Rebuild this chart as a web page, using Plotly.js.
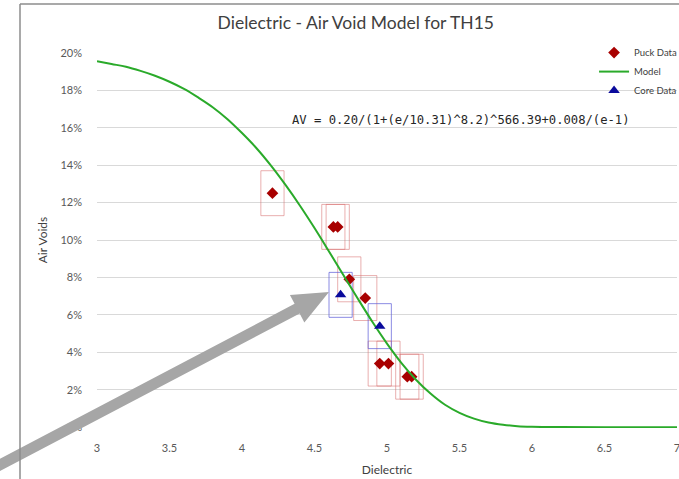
<!DOCTYPE html>
<html>
<head>
<meta charset="utf-8">
<script src="https://cdn.plot.ly/plotly-3.0.1.min.js"></script>
<style>
html,body{margin:0;padding:0;background:#fff;}
#chart{width:679px;height:479px;}
</style>
</head>
<body>
<div id="chart"></div>
<script>
// ---- data ----
const puckDielectric = [4.21, 4.63, 4.66, 4.74, 4.85, 4.95, 5.01, 5.14, 5.17];
const puckAirVoids   = [0.125, 0.107, 0.107, 0.079, 0.069, 0.034, 0.034, 0.027, 0.027];

const coreDielectric = [4.68, 4.95];
const coreAirVoids   = [0.0707, 0.054];

const modelDielectric = [3.0, 3.1, 3.2, 3.3, 3.4, 3.5, 3.6, 3.7, 3.8, 3.9, 4.0, 4.1, 4.2, 4.3, 4.4, 4.5, 4.6, 4.7, 4.8, 4.9, 5.0, 5.1, 5.2, 5.3, 5.4, 5.5, 5.6, 5.7, 5.8, 5.9, 6.0, 6.2, 6.5, 7.0];
const modelAirVoids   = [0.1955, 0.194, 0.1925, 0.1903, 0.1877, 0.1845, 0.1807, 0.176, 0.1708, 0.1645, 0.1571, 0.149, 0.1397, 0.1294, 0.1183, 0.1064, 0.0939, 0.0812, 0.0685, 0.0562, 0.0447, 0.0343, 0.0254, 0.018, 0.012, 0.0077, 0.0046, 0.0025, 0.0013, 0.0006, 0.0003, 0.0001, 0.0, 0.0];

const dielectricHalfRange = 0.08;   // box half-width
const airVoidHalfRange    = 0.012;  // box half-height

const xTicks = [3, 3.5, 4, 4.5, 5, 5.5, 6, 6.5, 7];
const yTicks = [0, 0.02, 0.04, 0.06, 0.08, 0.10, 0.12, 0.14, 0.16, 0.18, 0.20];

const equationText = 'AV = 0.20/(1+(e/10.31)^8.2)^566.39+0.008/(e-1)';

// ---- build rectangles around points from the data ----
function boxes(xs, ys) {
  const bx = [], by = [];
  xs.forEach((x, i) => {
    const y = ys[i];
    const x0 = x - dielectricHalfRange, x1 = x + dielectricHalfRange;
    const y0 = y - airVoidHalfRange, y1 = y + airVoidHalfRange;
    bx.push(x0, x1, x1, x0, x0, null);
    by.push(y0, y0, y1, y1, y0, null);
  });
  return {bx, by};
}
const pb = boxes(puckDielectric, puckAirVoids);
const cb = boxes(coreDielectric, coreAirVoids);

const traces = [
  {x: pb.bx, y: pb.by, type: 'scatter', mode: 'lines', showlegend: false, hoverinfo: 'skip',
   line: {color: 'rgba(215,110,110,0.55)', width: 1}},
  {x: cb.bx, y: cb.by, type: 'scatter', mode: 'lines', showlegend: false, hoverinfo: 'skip',
   line: {color: 'rgba(90,90,215,0.7)', width: 1}},
  {x: puckDielectric, y: puckAirVoids, type: 'scatter', mode: 'markers', name: 'Puck Data',
   marker: {symbol: 'diamond', size: 9, color: '#a80000'}},
  {x: modelDielectric, y: modelAirVoids, type: 'scatter', mode: 'lines', name: 'Model',
   line: {color: '#2aaa2a', width: 2, shape: 'spline', smoothing: 1}},
  {x: coreDielectric, y: coreAirVoids, type: 'scatter', mode: 'markers', name: 'Core Data',
   marker: {symbol: 'triangle-up', size: 10, color: '#0a0a9c'}}
];

// pixel -> paper helpers for decorative overlay (plot area 97..677, 52..428)
const L = 97, R = 677, T = 52, B = 428;
const px = X => (X - L) / (R - L);
const py = Y => (B - Y) / (B - T);

// big grey arrow
const tip = [329, 292];
const ux = 0.885, uy = -0.465, nx = 0.465, ny = 0.885;
const headLen = 36, headHalf = 15.5, shaftHalf = 5.5, tailLen = 420;
const bc = [tip[0] - headLen * ux, tip[1] - headLen * uy];
const tc = [tip[0] - tailLen * ux, tip[1] - tailLen * uy];
const arrowPts = [
  tip,
  [bc[0] + headHalf * nx, bc[1] + headHalf * ny],
  [bc[0] + shaftHalf * nx, bc[1] + shaftHalf * ny],
  [tc[0] + shaftHalf * nx, tc[1] + shaftHalf * ny],
  [tc[0] - shaftHalf * nx, tc[1] - shaftHalf * ny],
  [bc[0] - shaftHalf * nx, bc[1] - shaftHalf * ny],
  [bc[0] - headHalf * nx, bc[1] - headHalf * ny]
];
const arrowPath = 'M' + arrowPts.map(p => px(p[0]).toFixed(5) + ',' + py(p[1]).toFixed(5)).join(' L') + ' Z';

const layout = {
  width: 679, height: 479,
  margin: {l: L, r: 679 - R, t: T, b: 479 - B, pad: 0, autoexpand: false},
  paper_bgcolor: '#ffffff', plot_bgcolor: '#ffffff',
  font: {family: 'Lato, "Open Sans", sans-serif', color: '#595959', size: 11},
  title: {text: 'Dielectric - Air Void Model for TH15', x: 0.524, xanchor: 'center', y: 0.952, yanchor: 'middle',
          font: {family: 'Lato, sans-serif', size: 17.5, color: '#404040'}},
  xaxis: {range: [3, 7], tickvals: xTicks, ticktext: xTicks.map(String), showgrid: false, zeroline: false,
          showline: false, ticks: '', ticklabelstandoff: 12, ticklabeloverflow: 'allow', automargin: false,
          title: {text: 'Dielectric', font: {size: 12, color: '#404040'}, standoff: 12}},
  yaxis: {range: [-0.0004, 0.2004], tickvals: yTicks, tickformat: '.0%', showgrid: true, gridcolor: '#d9d9d9', gridwidth: 1,
          zeroline: false, showline: false, ticks: '', ticklabelstandoff: 14, automargin: false,
          title: {text: 'Air Voids', font: {size: 12, color: '#404040'}, standoff: 10}},
  legend: {x: 0.857, xanchor: 'left', y: 1.037, yanchor: 'top', bgcolor: 'rgba(0,0,0,0)',
           font: {size: 9.5, color: '#404040'}, tracegroupgap: 0, itemwidth: 30},
  annotations: [
    {text: equationText, xref: 'paper', yref: 'paper', x: px(290), y: py(120), xanchor: 'left', yanchor: 'middle',
     showarrow: false, font: {family: '"DejaVu Sans Mono", monospace', size: 12.2, color: '#262626'}}
  ],
  shapes: [
    {type: 'path', xref: 'paper', yref: 'paper', path: arrowPath, fillcolor: '#a6a6a6', line: {width: 0}, layer: 'above'},
    {type: 'line', xref: 'paper', yref: 'paper', x0: px(20), x1: px(20), y0: py(4), y1: py(490), line: {color: '#8c8c8c', width: 1.5}, layer: 'above'},
    {type: 'line', xref: 'paper', yref: 'paper', x0: px(20), x1: px(700), y0: py(4), y1: py(4), line: {color: '#8c8c8c', width: 1.5}, layer: 'above'}
  ],
  showlegend: true
};

Plotly.newPlot('chart', traces, layout, {displayModeBar: false, staticPlot: true});
</script>
</body>
</html>
